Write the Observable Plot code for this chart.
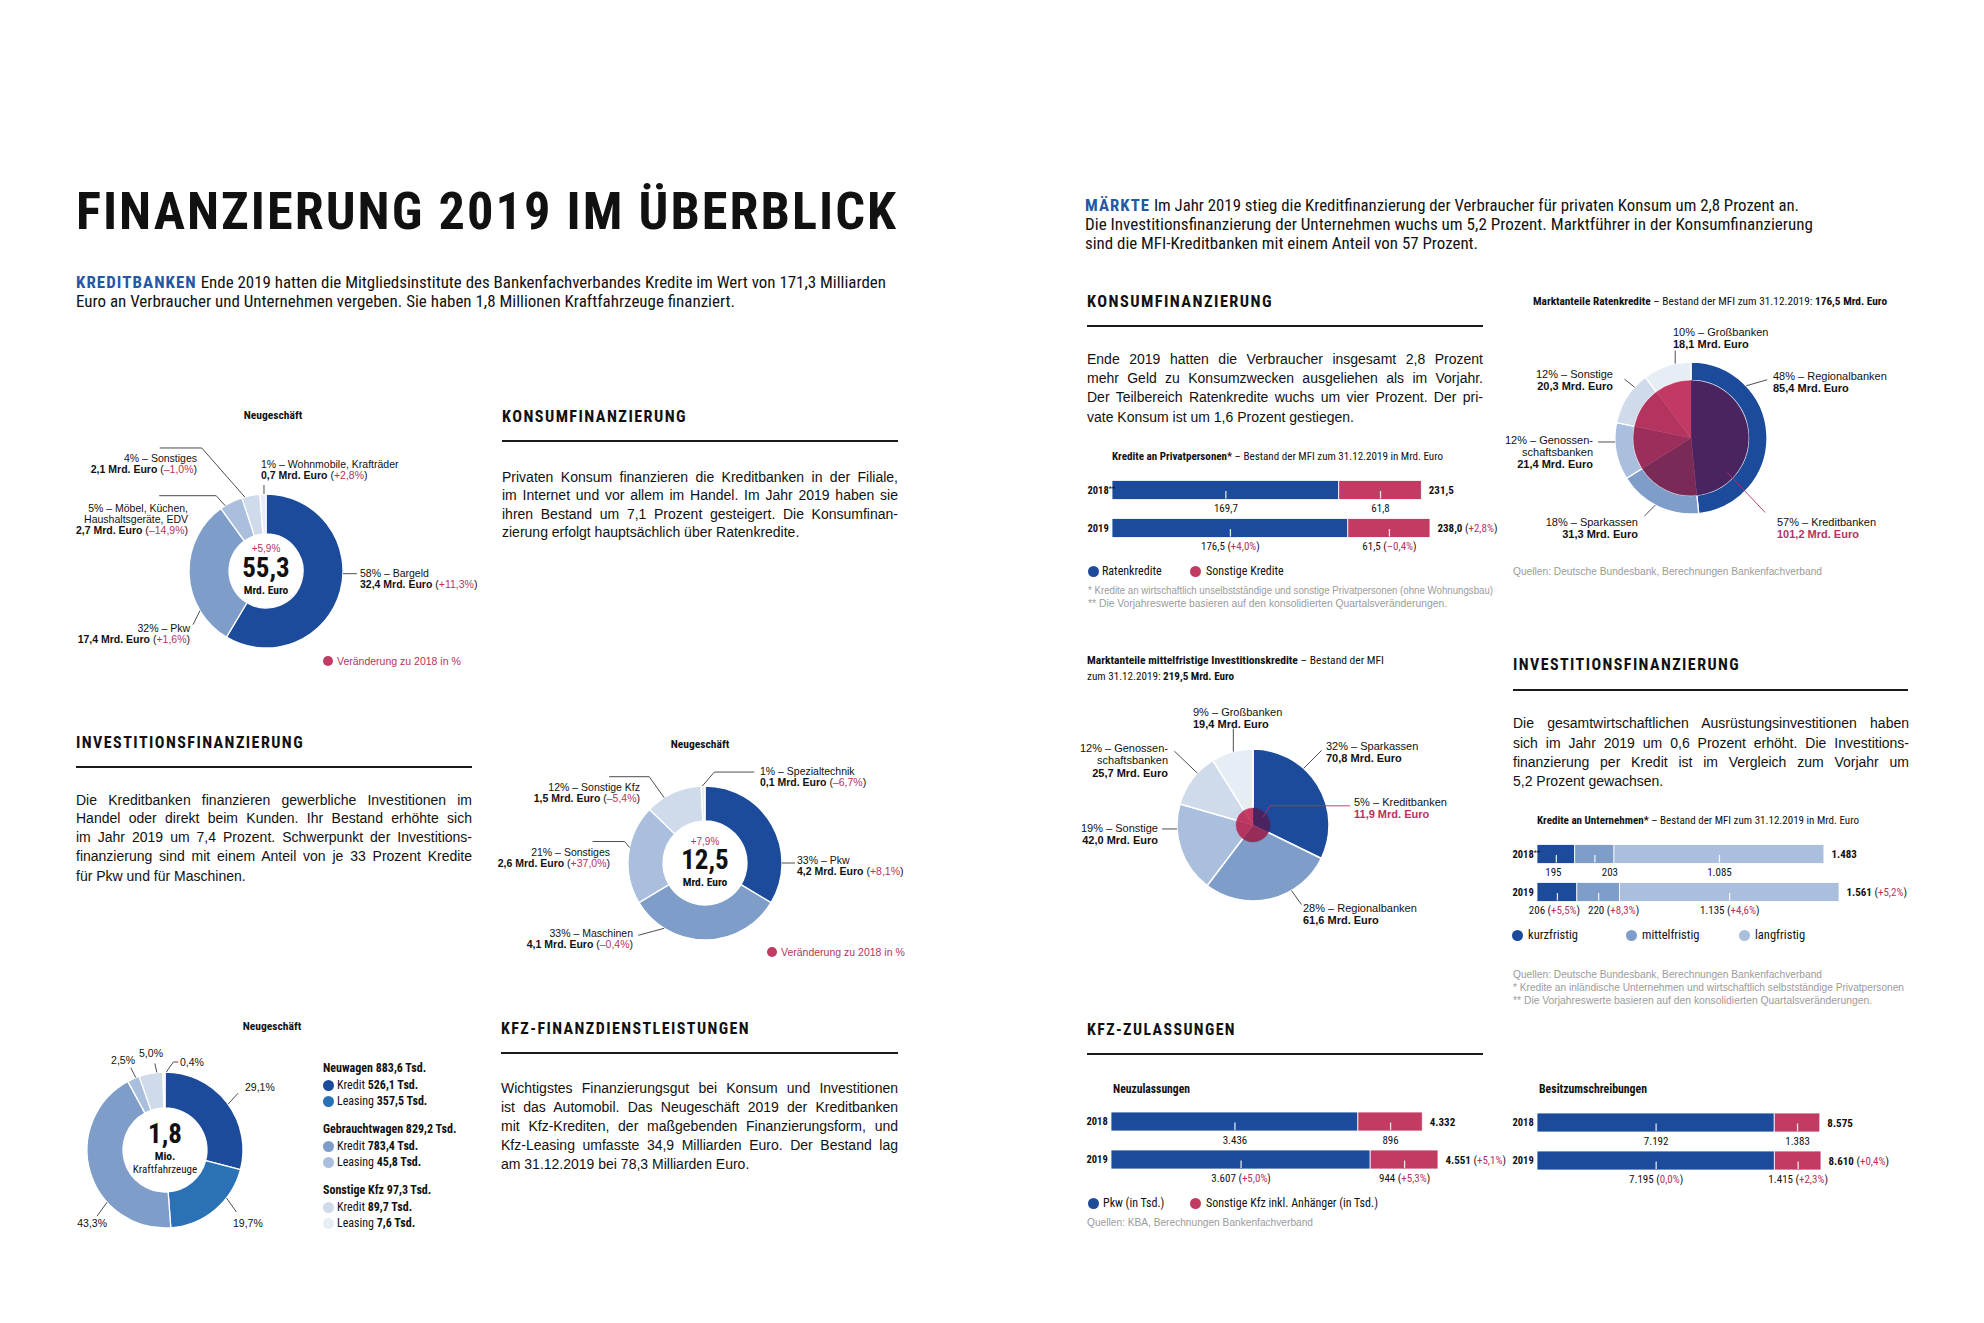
<!DOCTYPE html>
<html lang="de"><head><meta charset="utf-8"><title>Finanzierung 2019 im Überblick</title>
<script src="https://cdn.jsdelivr.net/npm/d3@7"></script>
<script src="https://cdn.jsdelivr.net/npm/@observablehq/plot@0.6"></script>
<style>
html,body{margin:0;padding:0;background:#fff;overflow:hidden;}
#page{position:relative;width:1984px;height:1323px;background:#fff;overflow:hidden;color:#111;}
.abs{position:absolute;white-space:nowrap;}
.reg{font-family:"Liberation Sans",Arial,Helvetica,sans-serif;}
.nar{font-family:"Liberation Sans Narrow","Roboto Condensed","Arial Narrow","DejaVu Sans Condensed",sans-serif;}
.blue{color:#2457a5;font-weight:bold;letter-spacing:1px;}
.red{color:#b8325f;}
.rule{position:absolute;height:2px;background:#1a1a1a;}
.dot{position:absolute;border-radius:50%;}
</style></head>
<body><div id="page"></div>
<script>
// ================= DATA =================
// Konsumfinanzierung – Neugeschäft der Kreditbanken
const konsumNames = ["Bargeld", "Pkw", "Möbel, Küchen,\nHaushaltsgeräte, EDV", "Sonstiges", "Wohnmobile, Krafträder"];
const konsumShare = [58, 32, 5, 4, 1];
const konsumMrd = [32.4, 17.4, 2.7, 2.1, 0.7];
const konsumChg = [11.3, 1.6, -14.9, -1.0, 2.8];
const konsumTotal = 55.3;
const konsumTotalChg = 5.9;

// Investitionsfinanzierung – Neugeschäft
const investNames = ["Pkw", "Maschinen", "Sonstiges", "Sonstige Kfz", "Spezialtechnik"];
const investShare = [33, 33, 21, 12, 1];
const investMrd = [4.2, 4.1, 2.6, 1.5, 0.1];
const investChg = [8.1, -0.4, 37.0, -5.4, -6.7];
const investTotal = 12.5;
const investTotalChg = 7.9;

// Kfz – Neugeschäft (Stück)
const kfzGroups = ["Neuwagen", "Gebrauchtwagen", "Sonstige Kfz"];
const kfzGroupTsd = [883.6, 829.2, 97.3];
const kfzKinds = ["Kredit", "Leasing"];
const kfzTsd = [526.1, 357.5, 783.4, 45.8, 89.7, 7.6];
const kfzPct = [29.1, 19.7, 43.3, 2.5, 5.0, 0.4];
const kfzTotalMio = 1.8;

// Marktanteile Ratenkredite
const ratenBanks = ["Regionalbanken", "Sparkassen", "Genossen-\nschaftsbanken", "Sonstige", "Großbanken"];
const ratenShare = [48, 18, 12, 12, 10];
const ratenMrd = [85.4, 31.3, 21.4, 20.3, 18.1];
const ratenTotal = 176.5;
const ratenKbShare = 57;
const ratenKbMrd = 101.2;

// Marktanteile mittelfristige Investitionskredite
const invBanks = ["Sparkassen", "Regionalbanken", "Sonstige", "Genossen-\nschaftsbanken", "Großbanken"];
const invShare = [32, 28, 19, 12, 9];
const invMrd = [70.8, 61.6, 42.0, 25.7, 19.4];
const invTotal = 219.5;
const invKbShare = 5;
const invKbMrd = 11.9;

// Balken
const years = ["2018", "2019"];
const vorjahrMark = "**";

const privatSeries = ["Ratenkredite", "Sonstige Kredite"];
const privatRaten = [169.7, 176.5];
const privatSonstige = [61.8, 61.5];
const privatTotal = [231.5, 238.0];
const privatRatenChg = [null, 4.0];
const privatSonstigeChg = [null, -0.4];
const privatTotalChg = [null, 2.8];

const unternSeries = ["kurzfristig", "mittelfristig", "langfristig"];
const unternKurz = [195, 206];
const unternMittel = [203, 220];
const unternLang = [1085, 1135];
const unternTotal = [1483, 1561];
const unternKurzChg = [null, 5.5];
const unternMittelChg = [null, 8.3];
const unternLangChg = [null, 4.6];
const unternTotalChg = [null, 5.2];

const kfzSeries = ["Pkw (in Tsd.)", "Sonstige Kfz inkl. Anhänger (in Tsd.)"];
const neuPkw = [3436, 3607];
const neuSonst = [896, 944];
const neuTotal = [4332, 4551];
const neuPkwChg = [null, 5.0];
const neuSonstChg = [null, 5.3];
const neuTotalChg = [null, 5.1];

const besPkw = [7192, 7195];
const besSonst = [1383, 1415];
const besTotal = [8575, 8610];
const besPkwChg = [null, 0.0];
const besSonstChg = [null, 2.3];
const besTotalChg = [null, 0.4];

// ================= STYLE =================
const BLUE = "#1c4b9b", MID = "#7e9dc8", LIGHT = "#a9bfdd", LIGHTER = "#cfdaea", LIGHTEST = "#e7edf5";
const BRIGHT = "#2a72b5", CRIM = "#c13b63", RED = "#b8325f", GRAY = "#9b9b9b";
const NARROW = '"Liberation Sans Narrow","Roboto Condensed","Arial Narrow","DejaVu Sans Condensed",sans-serif';
const REG = '"Liberation Sans",Arial,Helvetica,sans-serif';
const W = 1984, H = 1323;
const NS = "http://www.w3.org/2000/svg";

const loc = d3.formatLocale({decimal: ",", thousands: ".", grouping: [3], currency: ["", "€"]});
const f1 = loc.format(",.1f");
const f0 = loc.format(",.0f");
const pct = v => v === 0 ? "0,0%" : (v > 0 ? "+" : "–") + f1(Math.abs(v)) + "%";

const page = document.getElementById("page");

// ================= HTML HELPERS =================
function txt(x, y, html, o = {}) {
  const size = o.size || 14, lh = Math.round(size * 1.25);
  const d = document.createElement("div");
  d.className = "abs " + (o.cls || "reg");
  Object.assign(d.style, {left: x + "px", top: (y - lh / 2) + "px", fontSize: size + "px", lineHeight: lh + "px"});
  if (o.bold) d.style.fontWeight = "bold";
  if (o.color) d.style.color = o.color;
  if (o.ls != null) d.style.letterSpacing = o.ls + "px";
  d.innerHTML = html;
  page.appendChild(d);
  const w = d.getBoundingClientRect().width;
  if (o.center) d.style.left = (x - w / 2) + "px";
  if (o.fit) { d.style.transformOrigin = "0 50%"; d.style.transform = `scaleX(${(o.fit / w).toFixed(4)})`; }
  if (o.just) {
    const n = (d.textContent.match(/ /g) || []).length;
    if (w < o.just && n) d.style.wordSpacing = ((o.just - w) / n).toFixed(3) + "px";
    else if (w > o.just) { d.style.transformOrigin = "0 50%"; d.style.transform = `scaleX(${(o.just / w).toFixed(4)})`; }
  }
  return d;
}
function para(x, ys, w, lines) {
  lines.forEach((l, i) => txt(x, ys[i], l, {size: 14, just: i < lines.length - 1 ? w : null}));
}
function rule(x1, x2, y) {
  const d = document.createElement("div");
  d.className = "rule";
  Object.assign(d.style, {left: x1 + "px", width: (x2 - x1) + "px", top: (y - 1) + "px"});
  page.appendChild(d);
}
function dot(cx, cy, dia, color) {
  const d = document.createElement("div");
  d.className = "dot";
  Object.assign(d.style, {left: (cx - dia / 2) + "px", top: (cy - dia / 2) + "px", width: dia + "px", height: dia + "px", background: color});
  page.appendChild(d);
}
function heading(x, y, t, w) { txt(x, y, t, {cls: "nar", size: 17, bold: true, ls: 1.5, fit: w}); }

// ================= SVG RICH TEXT =================
function fillRich(node, s) {
  while (node.firstChild) node.removeChild(node.firstChild);
  let bold = false, red = false, sup = false, buf = "";
  const flush = () => {
    if (!buf) return;
    const ts = document.createElementNS(NS, "tspan");
    ts.textContent = buf;
    if (bold) ts.setAttribute("font-weight", "bold");
    if (red) ts.setAttribute("fill", RED);
    if (sup) { ts.setAttribute("font-size", "70%"); ts.setAttribute("dy", "-0.35em"); }
    node.appendChild(ts);
    buf = "";
  };
  for (const ch of s) {
    if (ch === "{") { flush(); red = true; }
    else if (ch === "}") { flush(); red = false; }
    else if (ch === "[") { flush(); bold = true; }
    else if (ch === "]") { flush(); bold = false; }
    else if (ch === "^") { flush(); sup = true; }
    else buf += ch;
  }
  flush();
}
function richify(root) {
  root.querySelectorAll("text").forEach(t => {
    const s = t.textContent;
    if (/[{}\[\]^]/.test(s)) fillRich(t, s);
  });
}
const plotStyle = {background: "transparent", maxWidth: "none", overflow: "visible", fontFamily: NARROW, color: "#111"};
function addSvg(svg) {
  svg.style.position = "absolute"; svg.style.left = "0px"; svg.style.top = "0px";
  page.appendChild(svg);
  richify(svg);
}

// ================= PIE MARK =================
function polar(cx, cy, ang, rad) { const a = ang * Math.PI / 180; return [cx + rad * Math.sin(a), cy - rad * Math.cos(a)]; }
function pieMark(cfg) {
  return () => {
    const {cx, cy, R, r, keys, values, colors, labels, layout, lh, fontSize} = cfg;
    const g = d3.create("svg:g").attr("font-family", REG).attr("font-size", fontSize).attr("fill", "#111");
    const col = Plot.scale({color: {type: "ordinal", domain: keys, range: colors}});
    const arcs = d3.pie().sort(null).value((d, i) => values[i])(keys);
    const gp = g.append("g").attr("transform", `translate(${cx},${cy})`);
    gp.selectAll("path.slice").data(arcs).join("path").attr("class", "slice")
      .attr("d", d3.arc().innerRadius(r).outerRadius(R))
      .attr("fill", d => col.apply(d.data)).attr("stroke", "#fff").attr("stroke-width", cfg.sw ?? 1.3);
    if (cfg.innerR) {
      const col2 = Plot.scale({color: {type: "ordinal", domain: keys, range: cfg.innerColors}});
      gp.selectAll("path.inner").data(arcs).join("path").attr("class", "inner")
        .attr("d", d3.arc().innerRadius(0).outerRadius(cfg.innerR))
        .attr("fill", d => col2.apply(d.data)).attr("stroke", d => col2.apply(d.data)).attr("stroke-width", 0.4);
    }
    labels.forEach((lines, i) => {
      const L = layout[i];
      const p0 = polar(cx, cy, L.ang, L.r0 ?? R);
      const p1 = [p0[0] + L.d1[0], p0[1] + L.d1[1]];
      const p2 = [p1[0] + L.h, p1[1]];
      g.append("path").attr("d", d3.line()([p0, p1, p2])).attr("fill", "none")
        .attr("stroke", L.color || "#3a3a3a").attr("stroke-width", 0.9);
      lines.forEach((ln, k) => {
        const t = g.append("text").attr("x", cx + L.tx).attr("y", cy + L.ty + k * lh)
          .attr("dy", "0.35em").attr("text-anchor", L.anchor);
        fillRich(t.node(), ln);
      });
    });
    (cfg.center || []).forEach(c => {
      const t = g.append("text").attr("x", cx).attr("y", cy + c.dy).attr("dy", "0.35em")
        .attr("text-anchor", "middle").attr("font-size", c.size).attr("font-family", c.font || NARROW)
        .attr("font-weight", c.bold ? "bold" : null).attr("fill", c.color || "#111");
      t.text(c.t);
    });
    return g.node();
  };
}
function piePlot(cfg) {
  return Plot.plot({width: W, height: H, margin: 0, style: plotStyle, marks: [pieMark(cfg)]});
}

// ================= BAR CHART =================
function barChart({series, colors, vals, chgs, totals, totalChg, yearLabels, fmt, x0, x1, yc, labelShift, pitch = 38, barH = 19}) {
  const xMax = d3.max(totals);
  const pxToData = xMax / (x1 - x0);
  const recs = [];
  years.forEach((yr, i) => {
    let cum = 0;
    series.forEach((s, j) => {
      const v = vals[j][i];
      const c = chgs[j][i];
      recs.push({year: yr, cat: s, x1: cum, x2: cum + v, mid: cum + v / 2,
        lx: cum + v / 2 + (labelShift ? labelShift[j] * pxToData : 0),
        label: fmt(v) + (c != null ? ` ({${pct(c)}})` : "")});
      cum += v;
    });
  });
  const tots = years.map((yr, i) => ({year: yr, t: totals[i],
    label: `[${fmt(totals[i])}]` + (totalChg[i] != null ? ` ({${pct(totalChg[i])}})` : "")}));
  const yl = years.map((yr, i) => ({year: yr, label: yearLabels[i]}));
  const p = 1 - barH / pitch;
  return Plot.plot({
    width: W, height: H, margin: 0, style: plotStyle,
    x: {domain: [0, xMax], range: [x0, x1], axis: null},
    y: {type: "band", domain: years, range: [yc - pitch / 2, yc + 1.5 * pitch], paddingInner: p, paddingOuter: p / 2, align: 0.5, round: false, axis: null},
    color: {domain: series, range: colors},
    marks: [
      Plot.barX(recs, {x1: "x1", x2: "x2", y: "year", fill: "cat", stroke: "white", strokeWidth: 0.8}),
      Plot.tickX(recs, {x: "mid", y: "year", stroke: "white", strokeWidth: 1.3, strokeOpacity: 0.85, insetTop: barH / 2 + 1, insetBottom: 1}),
      Plot.text(recs, {x: "lx", y: "year", text: "label", dy: 18, fontSize: 11, fill: "#111"}),
      Plot.text(tots, {x: "t", y: "year", text: "label", textAnchor: "start", dx: 7, fontSize: 11, fill: "#111"}),
      Plot.text(yl, {x: () => 0, y: "year", text: "label", textAnchor: "start", dx: -25, fontSize: 10.5, fill: "#111"})
    ]
  });
}

// ================= LEFT COLUMN TEXT =================
txt(76, 211, "FINANZIERUNG 2019 IM ÜBERBLICK", {cls: "nar", size: 52, bold: true, ls: 2, fit: 822});
txt(76, 283, `<span class="blue">KREDITBANKEN</span> Ende 2019 hatten die Mitgliedsinstitute des Bankenfachverbandes Kredite im Wert von 171,3 Milliarden`, {cls: "nar", size: 16, fit: 810});
txt(76, 302, "Euro an Verbraucher und Unternehmen vergeben. Sie haben 1,8 Millionen Kraftfahrzeuge finanziert.", {cls: "nar", size: 16, fit: 659});

heading(502, 416, "KONSUMFINANZIERUNG", 185);
rule(502, 898, 441);
para(502, [477, 495, 514, 532], 396, [
  "Privaten Konsum finanzieren die Kreditbanken in der Filiale,",
  "im Internet und vor allem im Handel. Im Jahr 2019 haben sie",
  "ihren Bestand um 7,1 Prozent gesteigert. Die Konsumfinan-",
  "zierung erfolgt hauptsächlich über Ratenkredite."]);

heading(76, 742, "INVESTITIONSFINANZIERUNG", 228);
rule(76, 472, 767);
para(76, [800, 818, 837, 856, 876], 396, [
  "Die Kreditbanken finanzieren gewerbliche Investitionen im",
  "Handel oder direkt beim Kunden. Ihr Bestand erhöhte sich",
  "im Jahr 2019 um 7,4 Prozent. Schwerpunkt der Investitions-",
  "finanzierung sind mit einem Anteil von je 33 Prozent Kredite",
  "für Pkw und für Maschinen."]);

heading(501, 1028, "KFZ-FINANZDIENSTLEISTUNGEN", 249);
rule(501, 898, 1053);
para(501, [1088, 1107, 1126, 1145, 1164], 397, [
  "Wichtigstes Finanzierungsgut bei Konsum und Investitionen",
  "ist das Automobil. Das Neugeschäft 2019 der Kreditbanken",
  "mit Kfz-Krediten, der maßgebenden Finanzierungsform, und",
  "Kfz-Leasing umfasste 34,9 Milliarden Euro. Der Bestand lag",
  "am 31.12.2019 bei 78,3 Milliarden Euro."]);

txt(273, 415, "Neugeschäft", {cls: "nar", size: 11.5, bold: true, center: true});
txt(700, 744, "Neugeschäft", {cls: "nar", size: 11.5, bold: true, center: true});
txt(272, 1026, "Neugeschäft", {cls: "nar", size: 11.5, bold: true, center: true});
dot(328, 661, 10, CRIM); txt(337, 661, "Veränderung zu 2018 in %", {size: 10.5, color: RED});
dot(772, 952, 10, CRIM); txt(781, 952, "Veränderung zu 2018 in %", {size: 10.5, color: RED});

// Kfz legend
const kfzColors = [BLUE, BRIGHT, MID, LIGHT, LIGHTER, LIGHTEST];
kfzGroups.forEach((gname, gi) => {
  const y = 1068 + 61 * gi;
  txt(323, y, `<b>${gname} ${f1(kfzGroupTsd[gi])} Tsd.</b>`, {cls: "nar", size: 12});
  kfzKinds.forEach((k, ki) => {
    const idx = gi * 2 + ki, yy = y + 17 + 16 * ki;
    dot(328, yy, 11, kfzColors[idx]);
    txt(337, yy, `${k} <b>${f1(kfzTsd[idx])} Tsd.</b>`, {cls: "nar", size: 12});
  });
});

// ================= RIGHT COLUMN TEXT =================
txt(1085, 206, `<span class="blue">MÄRKTE</span> Im Jahr 2019 stieg die Kreditfinanzierung der Verbraucher für privaten Konsum um 2,8 Prozent an.`, {cls: "nar", size: 16, fit: 714});
txt(1085, 225, "Die Investitionsfinanzierung der Unternehmen wuchs um 5,2 Prozent. Marktführer in der Konsumfinanzierung", {cls: "nar", size: 16, fit: 728});
txt(1085, 244, "sind die MFI-Kreditbanken mit einem Anteil von 57 Prozent.", {cls: "nar", size: 16, fit: 393});

heading(1087, 301, "KONSUMFINANZIERUNG", 186);
rule(1087, 1483, 326);
para(1087, [359, 378, 397, 417], 396, [
  "Ende 2019 hatten die Verbraucher insgesamt 2,8 Prozent",
  "mehr Geld zu Konsumzwecken ausgeliehen als im Vorjahr.",
  "Der Teilbereich Ratenkredite wuchs um vier Prozent. Der pri-",
  "vate Konsum ist um 1,6 Prozent gestiegen."]);
txt(1112, 456, "<b>Kredite an Privatpersonen*</b> – Bestand der MFI zum 31.12.2019 in Mrd. Euro", {cls: "nar", size: 11.5, fit: 331});
dot(1093, 571, 11, BLUE); txt(1102, 571, privatSeries[0], {cls: "nar", size: 12});
dot(1195, 571, 11, CRIM); txt(1206, 571, privatSeries[1], {cls: "nar", size: 12});
txt(1088, 590, "* Kredite an wirtschaftlich unselbstständige und sonstige Privatpersonen (ohne Wohnungsbau)", {size: 10, color: GRAY, fit: 405});
txt(1088, 603, "** Die Vorjahreswerte basieren auf den konsolidierten Quartalsveränderungen.", {size: 10, color: GRAY, fit: 359});

txt(1533, 301, `<b>Marktanteile Ratenkredite</b> – Bestand der MFI zum 31.12.2019: <b>${f1(ratenTotal)} Mrd. Euro</b>`, {cls: "nar", size: 11.5, fit: 354});
txt(1513, 571, "Quellen: Deutsche Bundesbank, Berechnungen Bankenfachverband", {size: 10.5, color: GRAY, fit: 309});

txt(1087, 660, "<b>Marktanteile mittelfristige Investitionskredite</b> – Bestand der MFI", {cls: "nar", size: 11.5, fit: 297});
txt(1087, 676, `zum 31.12.2019: <b>${f1(invTotal)} Mrd. Euro</b>`, {cls: "nar", size: 11.5, fit: 147});

heading(1513, 664, "INVESTITIONSFINANZIERUNG", 227);
rule(1513, 1908, 690);
para(1513, [723, 743, 762, 781], 396, [
  "Die gesamtwirtschaftlichen Ausrüstungsinvestitionen haben",
  "sich im Jahr 2019 um 0,6 Prozent erhöht. Die Investitions-",
  "finanzierung per Kredit ist im Vergleich zum Vorjahr um",
  "5,2 Prozent gewachsen."]);
txt(1537, 820, "<b>Kredite an Unternehmen*</b> – Bestand der MFI zum 31.12.2019 in Mrd. Euro", {cls: "nar", size: 11.5, fit: 322});
[[1517, BLUE], [1631, MID], [1744, LIGHT]].forEach(([x, c], i) => { dot(x, 935, 11, c); txt(x + 11, 935, unternSeries[i], {cls: "nar", size: 12.5}); });
txt(1513, 974, "Quellen: Deutsche Bundesbank, Berechnungen Bankenfachverband", {size: 10.5, color: GRAY, fit: 309});
txt(1513, 987, "* Kredite an inländische Unternehmen und wirtschaftlich selbstständige Privatpersonen", {size: 10, color: GRAY, fit: 391});
txt(1513, 1000, "** Die Vorjahreswerte basieren auf den konsolidierten Quartalsveränderungen.", {size: 10, color: GRAY, fit: 359});

heading(1087, 1029, "KFZ-ZULASSUNGEN", 149);
rule(1087, 1483, 1054);
txt(1113, 1089, "Neuzulassungen", {cls: "nar", size: 12, bold: true, fit: 77});
txt(1539, 1089, "Besitzumschreibungen", {cls: "nar", size: 12, bold: true, fit: 108});
dot(1093, 1203, 11, BLUE); txt(1103, 1203, kfzSeries[0], {cls: "nar", size: 12});
dot(1195, 1203, 11, CRIM); txt(1206, 1203, kfzSeries[1], {cls: "nar", size: 12});
txt(1087, 1222, "Quellen: KBA, Berechnungen Bankenfachverband", {size: 10.5, color: GRAY, fit: 226});

// ================= PIES =================
const mrdLine = (v, c) => `[${f1(v)} Mrd. Euro] ({${pct(c)}})`;
const withName = (share, name) => { const p = name.split("\n"); p[0] = `${share}% – ${p[0]}`; return p; };

addSvg(piePlot({
  cx: 266, cy: 571, R: 77, r: 37, fontSize: 10.5, lh: 11.2,
  keys: konsumNames, values: konsumMrd, colors: [BLUE, MID, LIGHT, LIGHTER, LIGHTEST],
  labels: konsumNames.map((n, i) => [...withName(konsumShare[i], n), mrdLine(konsumMrd[i], konsumChg[i])]),
  layout: [
    {ang: 92, d1: [0, 0], h: 14, tx: 94, ty: 2, anchor: "start"},
    {ang: 239, d1: [-7, 14], h: 0, tx: -76, ty: 57, anchor: "end"},
    {ang: 328, d1: [-9, -10], h: -57, tx: -78, ty: -63, anchor: "end"},
    {ang: 344, d1: [-43, -49], h: -42, tx: -69, ty: -113, anchor: "end"},
    {ang: 358.5, d1: [0, -9], h: 0, tx: -5, ty: -107, anchor: "start"}],
  center: [
    {t: pct(konsumTotalChg), dy: -23, size: 10, font: REG, color: RED},
    {t: f1(konsumTotal), dy: -3, size: 27, bold: true},
    {t: "Mrd. Euro", dy: 19, size: 11.5, bold: true}]
}));

addSvg(piePlot({
  cx: 705, cy: 863, R: 77, r: 42, fontSize: 10.5, lh: 11.5,
  keys: investNames, values: investMrd, colors: [BLUE, MID, LIGHT, LIGHTER, LIGHTEST],
  labels: investNames.map((n, i) => [...withName(investShare[i], n), mrdLine(investMrd[i], investChg[i])]),
  layout: [
    {ang: 90, d1: [0, 0], h: 13, tx: 92, ty: -3, anchor: "start"},
    {ang: 212, d1: [-26, 7], h: 0, tx: -72, ty: 70, anchor: "end"},
    {ang: 281.6, d1: [-5, -6], h: -32, tx: -95, ty: -11, anchor: "end"},
    {ang: 328, d1: [-15, -21], h: -40, tx: -65, ty: -76, anchor: "end"},
    {ang: 358, d1: [12, -14], h: 40, tx: 55, ty: -92, anchor: "start"}],
  center: [
    {t: pct(investTotalChg), dy: -22, size: 10, font: REG, color: RED},
    {t: f1(investTotal), dy: -3, size: 27, bold: true},
    {t: "Mrd. Euro", dy: 19, size: 11.5, bold: true}]
}));

addSvg(piePlot({
  cx: 165, cy: 1150, R: 78, r: 42, fontSize: 10.5, lh: 11.5,
  keys: kfzGroups.flatMap(g => kfzKinds.map(k => g + " " + k)), values: kfzTsd, colors: kfzColors,
  labels: kfzPct.map(v => [f1(v) + "%"]),
  layout: [
    {ang: 54, d1: [10, -11], h: 0, tx: 80, ty: -63, anchor: "start"},
    {ang: 128, d1: [10, 14], h: 0, tx: 68, ty: 73, anchor: "start"},
    {ang: 228, d1: [-10, 14], h: 0, tx: -58, ty: 73, anchor: "end"},
    {ang: 338, d1: [-5, -10], h: 0, tx: -30, ty: -90, anchor: "end"},
    {ang: 354, d1: [-2, -9], h: 0, tx: -14, ty: -97, anchor: "middle"},
    {ang: 1, d1: [7, -10], h: 5, tx: 15, ty: -88, anchor: "start"}],
  center: [
    {t: f1(kfzTotalMio), dy: -16, size: 27, bold: true},
    {t: "Mio.", dy: 6, size: 11.5, bold: true},
    {t: "Kraftfahrzeuge", dy: 19, size: 11}]
}));

addSvg(piePlot({
  cx: 1691, cy: 438, R: 76, r: 57.5, innerR: 57.5, fontSize: 11, lh: 12,
  keys: ratenBanks, values: ratenMrd, colors: [BLUE, MID, LIGHT, LIGHTER, LIGHTEST],
  innerColors: ["#4a2461", "#7a2a57", "#9b2e5a", "#b2345f", "#c23a63"],
  labels: [...ratenBanks.map((n, i) => [...withName(ratenShare[i], n), `[${f1(ratenMrd[i])} Mrd. Euro]`]),
    [`${ratenKbShare}% – Kreditbanken`, `{[${f1(ratenKbMrd)} Mrd. Euro]}`]],
  layout: [
    {ang: 46.6, d1: [21, -6], h: 0, tx: 82, ty: -62, anchor: "start"},
    {ang: 208, d1: [-11, 11], h: 0, tx: -53, ty: 84, anchor: "end"},
    {ang: 267, d1: [0, 0], h: -17, tx: -98, ty: 2, anchor: "end"},
    {ang: 312, d1: [-10, -8], h: 0, tx: -78, ty: -64, anchor: "end"},
    {ang: 348, d1: [0, -13], h: 0, tx: -18, ty: -106, anchor: "start"},
    {ang: 133.6, r0: 50, d1: [38, 40], h: 0, tx: 86, ty: 84, anchor: "start", color: RED}]
}));

addSvg(piePlot({
  cx: 1253, cy: 825, R: 76, r: 0, innerR: 17, fontSize: 11, lh: 12.5, sw: 1.5,
  keys: invBanks, values: invMrd, colors: [BLUE, MID, LIGHT, LIGHTER, LIGHTEST],
  innerColors: ["#4a2461", "#962d59", "#b2345f", "#bd3861", "#c43b64"],
  labels: [...invBanks.map((n, i) => [...withName(invShare[i], n), `[${f1(invMrd[i])} Mrd. Euro]`]),
    [`${invKbShare}% – Kreditbanken`, `{[${f1(invKbMrd)} Mrd. Euro]}`]],
  layout: [
    {ang: 41.8, d1: [18, -18], h: 0, tx: 73, ty: -79, anchor: "start"},
    {ang: 149.6, d1: [10, 14], h: 0, tx: 50, ty: 83, anchor: "start"},
    {ang: 267, d1: [0, 0], h: -15, tx: -95, ty: 3, anchor: "end"},
    {ang: 313, d1: [-23, -22], h: 0, tx: -85, ty: -77, anchor: "end"},
    {ang: 345, d1: [0, -23], h: 0, tx: -60, ty: -113, anchor: "start"},
    {ang: 51, r0: 13, d1: [7, -11], h: 80, tx: 101, ty: -23, anchor: "start", color: RED}]
}));

// ================= BARS =================
addSvg(barChart({
  series: privatSeries, colors: [BLUE, CRIM], fmt: f1,
  vals: [privatRaten, privatSonstige], chgs: [privatRatenChg, privatSonstigeChg],
  totals: privatTotal, totalChg: privatTotalChg,
  yearLabels: [`[${years[0]}]^${vorjahrMark}`, `[${years[1]}]`],
  x0: 1112, x1: 1430, yc: 490
}));
addSvg(barChart({
  series: unternSeries, colors: [BLUE, MID, LIGHT], fmt: f0,
  vals: [unternKurz, unternMittel, unternLang], chgs: [unternKurzChg, unternMittelChg, unternLangChg],
  totals: unternTotal, totalChg: unternTotalChg,
  yearLabels: [`[${years[0]}]^${vorjahrMark}`, `[${years[1]}]`],
  labelShift: [-3, 15, 0],
  x0: 1537, x1: 1839, yc: 854
}));
addSvg(barChart({
  series: kfzSeries, colors: [BLUE, CRIM], fmt: f0,
  vals: [neuPkw, neuSonst], chgs: [neuPkwChg, neuSonstChg],
  totals: neuTotal, totalChg: neuTotalChg,
  yearLabels: years.map(y => `[${y}]`),
  x0: 1111, x1: 1438, yc: 1121.5
}));
addSvg(barChart({
  series: kfzSeries, colors: [BLUE, CRIM], fmt: f0,
  vals: [besPkw, besSonst], chgs: [besPkwChg, besSonstChg],
  totals: besTotal, totalChg: besTotalChg,
  yearLabels: years.map(y => `[${y}]`),
  x0: 1537, x1: 1821, yc: 1122.5
}));
</script>
</body></html>
